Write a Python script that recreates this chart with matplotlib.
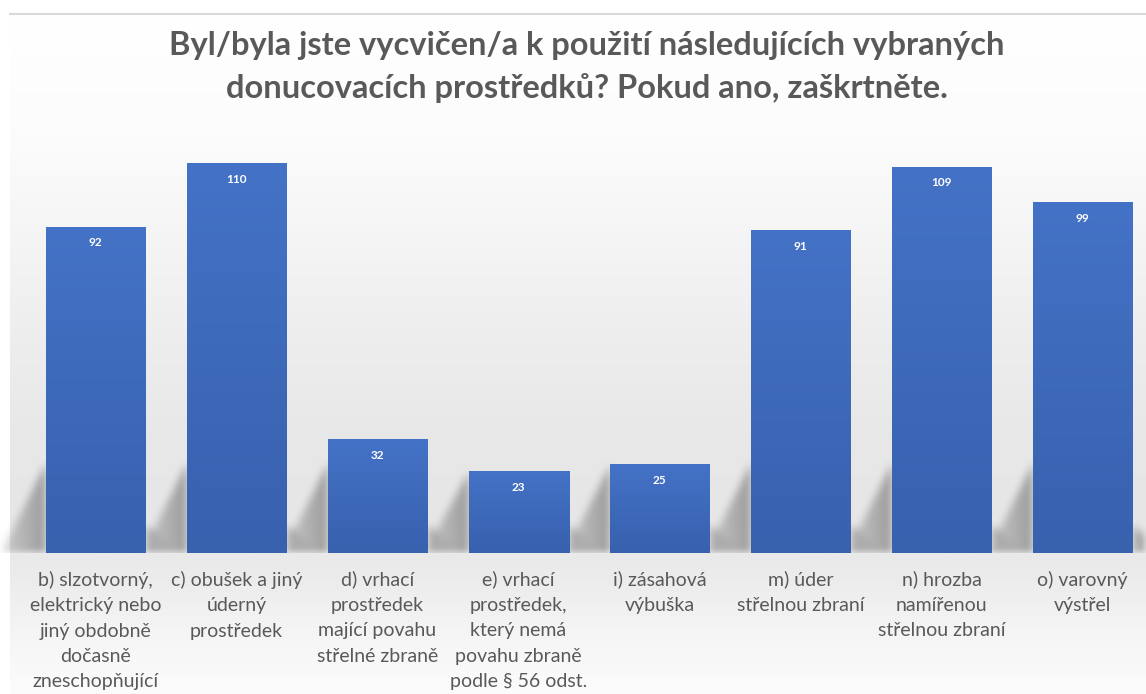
import numpy as np
import matplotlib
matplotlib.use("Agg")
import matplotlib.pyplot as plt
from matplotlib.colors import LinearSegmentedColormap

categories = [
    "b) slzotvorný,\nelektrický nebo\njiný obdobně\ndočasně\nzneschopňující",
    "c) obušek a jiný\núderný\nprostředek",
    "d) vrhací\nprostředek\nmající povahu\nstřelné zbraně",
    "e) vrhací\nprostředek,\nkterý nemá\npovahu zbraně\npodle § 56 odst.",
    "i) zásahová\nvýbuška",
    "m) úder\nstřelnou zbraní",
    "n) hrozba\nnamířenou\nstřelnou zbraní",
    "o) varovný\nvýstřel",
]
values = [92, 110, 32, 23, 25, 91, 109, 99]
title = "Byl/byla jste vycvičen/a k použití následujících vybraných\ndonucovacích prostředků? Pokud ano, zaškrtněte."

W, H = 1146, 694
fig = plt.figure(figsize=(W / 100, H / 100), dpi=100)
fig.patch.set_facecolor("white")

# background gradient
bg = fig.add_axes([0, 0, 1, 1], zorder=0)
ys = np.array([0, 14, 130, 220, 330, 430, 520, 580, 640, 694])
gs = np.array([255, 255, 252, 246, 238, 232, 230, 236, 246, 252]) / 255.0
rows = np.interp(np.arange(H), ys, gs)
img = np.repeat(rows[:, None], W, axis=1)
img[:, :10] = 1.0
img[:14, :] = 1.0
bg.imshow(np.dstack([img, img, img]), extent=[0, W, H, 0], aspect="auto")
bg.plot([10, W], [14, 14], color="#d9d9d9", lw=1.5)
bg.set_xlim(0, W)
bg.set_ylim(H, 0)
bg.axis("off")

# main axes
base_px = 553
top_px = 130
ax = fig.add_axes([0, (H - base_px) / H, 1, (base_px - top_px) / H], zorder=1)
ax.patch.set_alpha(0)
spacing = 141.0
c0 = 95.5
xl = -c0 / spacing
xr = (W - c0) / spacing
scale = 3.54
ymax = (base_px - top_px) / scale

x = np.arange(len(values))
bw = 100 / spacing

# soft shadows (derived from bar geometry)
sh_h = 200
shadow = np.zeros((sh_h, W))
for xi, v in zip(x, values):
    left_px = c0 + xi * spacing - 50
    right_px = left_px + 100
    hpx = min(v * scale, 90)
    for col in range(W):
        d = left_px - col
        if 0 <= d < 45:
            n = int(hpx * (1 - d / 45))
            if n > 0:
                shadow[sh_h - n:, col] = np.maximum(shadow[sh_h - n:, col], 1.0 - d / 70)
        d2 = col - right_px
        if 0 <= d2 < 35:
            n = int(28 * (1 - d2 / 35))
            if n > 0:
                shadow[sh_h - n:, col] = np.maximum(shadow[sh_h - n:, col], 0.8)
# blur
k = 9
kern = np.ones(k) / k
for _ in range(2):
    shadow = np.apply_along_axis(lambda r: np.convolve(r, kern, mode="same"), 1, shadow)
    shadow = np.apply_along_axis(lambda r: np.convolve(r, kern, mode="same"), 0, shadow)
rgba = np.zeros((sh_h, W, 4))
rgba[..., :3] = 0.42
rgba[..., 3] = np.clip(shadow, 0, 1) * 0.6
ax.imshow(rgba, extent=[xl, xr, 0, sh_h / scale], aspect="auto", zorder=1, interpolation="bilinear")

# bars with vertical gradient
cmap = LinearSegmentedColormap.from_list("bar", ["#3861ae", "#4472c6"])
grad = np.linspace(0, 1, 256)[:, None]
bars = ax.bar(x, values, width=bw, color="#4070c0", zorder=2)
for b in bars:
    bx, by = b.get_x(), b.get_y()
    bwid, bh = b.get_width(), b.get_height()
    ax.imshow(grad, cmap=cmap, extent=[bx, bx + bwid, by, by + bh], aspect="auto",
              origin="lower", zorder=3)
    ax.text(bx + bwid / 2, bh - 4.4, f"{int(bh)}", color="white", fontsize=8.5,
            fontweight="bold", ha="center", va="center", family="Lato", zorder=4)
ax.set_xlim(xl, xr)
ax.set_ylim(0, ymax)
ax.axis("off")

# category labels
for xi, lab in zip(x, categories):
    ax.text(xi, -5.0, lab, ha="center", va="top", fontsize=14, color="#595959",
            family="Lato", linespacing=1.6, clip_on=False)

fig.text(0.512, 1 - 67 / H, title, ha="center", va="center", fontsize=23.5,
         fontweight="bold", color="#595959", family="Lato", linespacing=1.55)

fig.savefig("out.png", dpi=100)
